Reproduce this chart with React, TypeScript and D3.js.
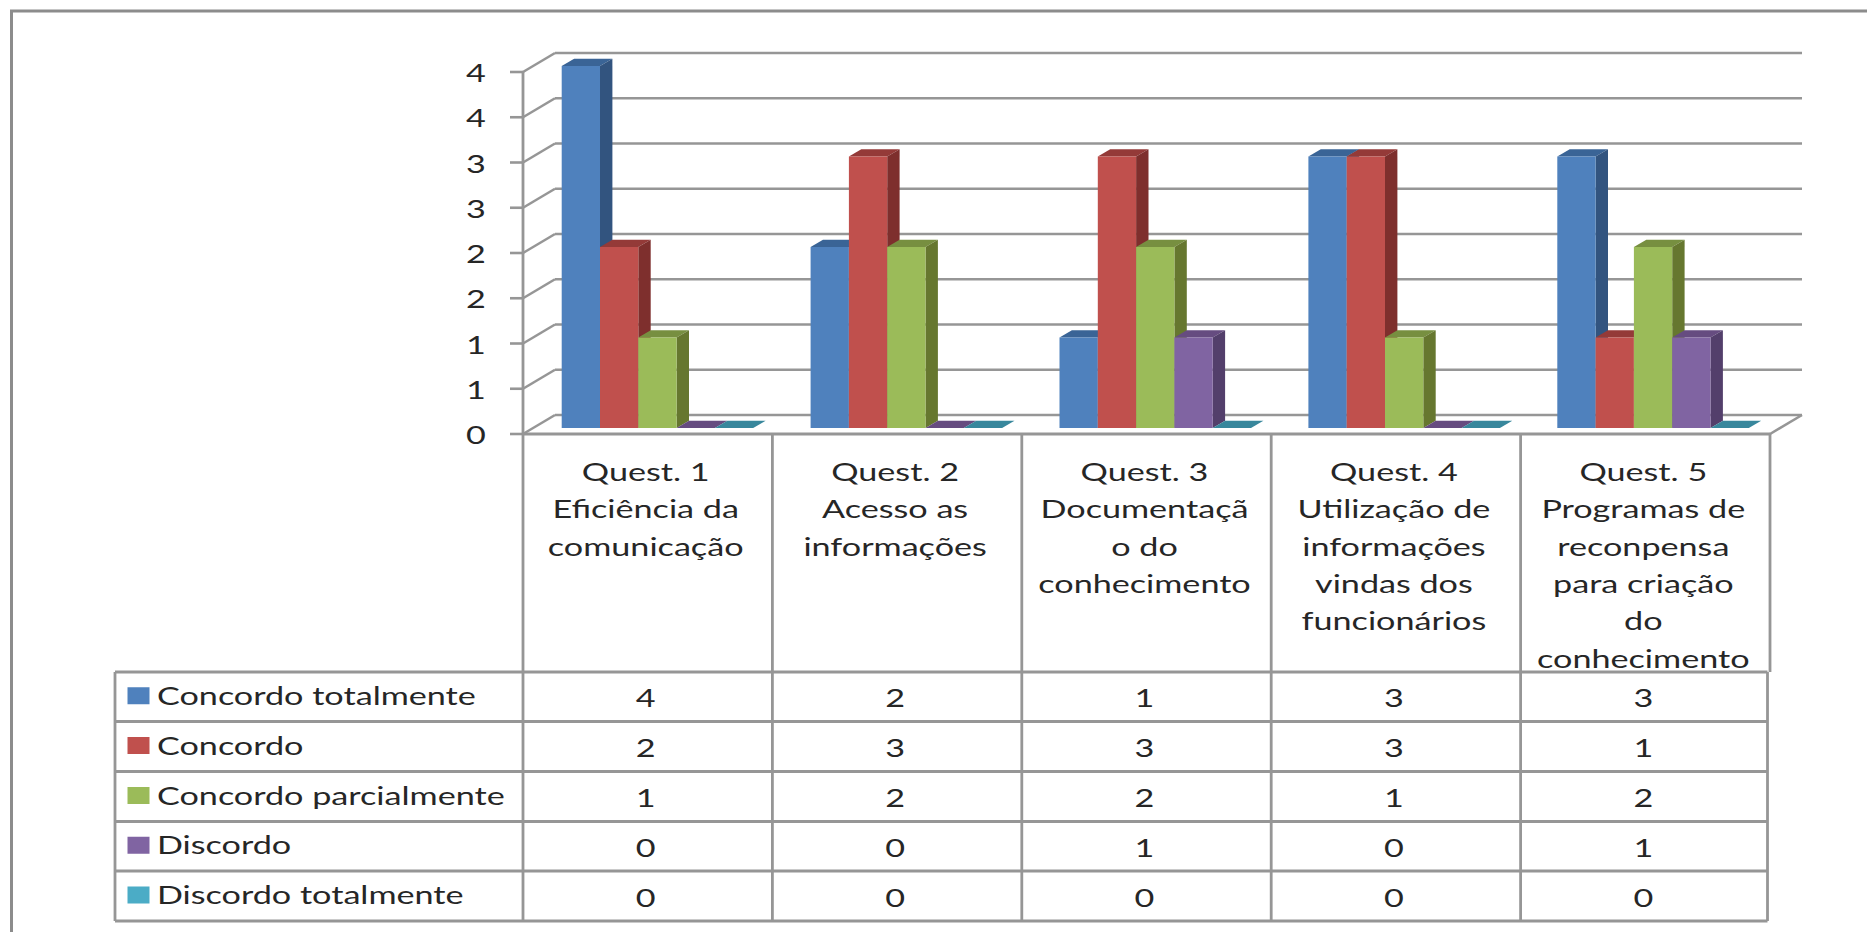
import React from "react";
import * as d3 from "d3";

const categories = [
  ["Quest. 1", "Eficiência da", "comunicação"],
  ["Quest. 2", "Acesso as", "informações"],
  ["Quest. 3", "Documentaçã", "o do", "conhecimento"],
  ["Quest. 4", "Utilização de", "informações", "vindas dos", "funcionários"],
  ["Quest. 5", "Programas de", "reconpensa", "para criação", "do", "conhecimento"],
];
const seriesNames = [
  "Concordo totalmente",
  "Concordo",
  "Concordo parcialmente",
  "Discordo",
  "Discordo totalmente",
];
const concordoTotalmente = [4, 2, 1, 3, 3];
const concordo = [2, 3, 3, 3, 1];
const concordoParcialmente = [1, 2, 2, 1, 2];
const discordo = [0, 0, 1, 0, 1];
const discordoTotalmente = [0, 0, 0, 0, 0];
const seriesValues = [concordoTotalmente, concordo, concordoParcialmente, discordo, discordoTotalmente];
const axisTicks = [0, 0.5, 1, 1.5, 2, 2.5, 3, 3.5, 4];

const faceColors = ["#4F81BD", "#C0504D", "#9BBB59", "#8064A2", "#4BACC6"];
const sideColors = ["#32547F", "#7E2F2D", "#66772F", "#533F6B", "#2F7285"];
const topColors = ["#3A6496", "#943A38", "#778F40", "#664C80", "#38879C"];

const GRID = "#969696";
const INK = "#262626";
const FONT = "Lato, 'Noto Sans', sans-serif";
const STRETCH = 1.34;
const FONT_SIZE = 25.5;

// Plot frame and the oblique depth of the 3D wall
const plotLeft = 523;
const plotRight = 1770;
const wallDx = 32;
const wallDy = -19;
const barDx = 12.4;
const barDy = -7.2;
const barBaseLift = 6;

const y = d3.scaleLinear().domain([0, 4]).range([434, 72]);
const column = d3.scaleBand<number>().domain(d3.range(5)).range([plotLeft, plotRight]);
const barGroup = d3.scaleLinear().domain([0, 5]).range([561.7, 1806.2]);
const barSlot = d3.scaleBand<number>().domain(d3.range(5)).range([0, 191.5]);
const rowEdges = [672, 721.5, 771.5, 821.5, 871, 921];
const categoryLines = [471, 508, 546, 583, 620, 658];

function StretchedText({ x, y: ty, anchor = "middle", children }: any) {
  return (
    <text
      transform={`translate(${x},${ty}) scale(${STRETCH},1)`}
      textAnchor={anchor}
      dominantBaseline="central"
      fontFamily={FONT}
      fontSize={FONT_SIZE}
      fill={INK}
    >
      {children}
    </text>
  );
}

function Bar({ series, cat, value }: { series: number; cat: number; value: number }) {
  const w = barSlot.bandwidth();
  const x0 = barGroup(cat) + (barSlot(series) as number);
  const x1 = x0 + w;
  const yb = y(0) - barBaseLift;
  const yt = y(value) - barBaseLift;
  const poly = (pts: number[][]) => pts.map((p) => p.join(",")).join(" ");
  return (
    <g>
      <polygon
        fill={topColors[series]}
        points={poly([[x0, yt], [x0 + barDx, yt + barDy], [x1 + barDx, yt + barDy], [x1, yt]])}
      />
      {value > 0 && (
        <>
          <polygon
            fill={sideColors[series]}
            points={poly([[x1, yt], [x1 + barDx, yt + barDy], [x1 + barDx, yb + barDy], [x1, yb]])}
          />
          <rect x={x0} y={yt} width={w} height={yb - yt} fill={faceColors[series]} />
        </>
      )}
    </g>
  );
}

export default function App() {
  const tableLeft = 115;
  const tableRight = 1767.5;
  const columnEdges = d3.range(6).map((i) => plotLeft + i * column.step());
  return (
    <svg
      width={1867}
      height={932}
      viewBox="0 0 1867 932"
      style={{ position: "absolute", left: 0, top: 0, display: "block", background: "#fff" }}
    >
      {/* outer chart border */}
      <path d="M11.5,932 V11 H1867" fill="none" stroke="#8c8c8c" strokeWidth={3} />

      {/* back wall gridlines, their diagonals and the tick marks */}
      <g stroke={GRID} strokeWidth={2.6} fill="none">
        {axisTicks.map((t) => (
          <g key={t}>
            <line x1={plotLeft + wallDx} x2={plotRight + wallDx} y1={y(t) + wallDy} y2={y(t) + wallDy} />
            <line x1={plotLeft} x2={plotLeft + wallDx} y1={y(t)} y2={y(t) + wallDy} />
            <line x1={plotLeft - 13} x2={plotLeft} y1={y(t)} y2={y(t)} />
          </g>
        ))}
        <line x1={plotRight} x2={plotRight + wallDx} y1={y(0)} y2={y(0) + wallDy} />
      </g>

      {/* bars, painted left to right so each face covers its neighbour's side */}
      {categories.map((_, c) =>
        seriesValues.map((vals, s) => <Bar key={`${c}-${s}`} series={s} cat={c} value={vals[c]} />)
      )}

      {/* axis, floor edge and data table rules */}
      <g stroke={GRID} strokeWidth={2.8} fill="none">
        <line x1={plotLeft} x2={plotLeft} y1={y(4)} y2={rowEdges[5]} />
        <line x1={plotLeft} x2={plotRight} y1={y(0)} y2={y(0)} />
        {columnEdges.slice(1, 5).map((x) => (
          <line key={x} x1={x} x2={x} y1={y(0)} y2={rowEdges[5]} />
        ))}
        <line x1={plotRight} x2={plotRight} y1={y(0)} y2={rowEdges[0]} />
        <line x1={tableRight} x2={tableRight} y1={rowEdges[0]} y2={rowEdges[5]} />
        {rowEdges.map((r) => (
          <line key={r} x1={tableLeft} x2={tableRight} y1={r} y2={r} />
        ))}
        <line x1={tableLeft} x2={tableLeft} y1={rowEdges[0]} y2={rowEdges[5]} />
      </g>

      {/* value axis labels, rounded to whole numbers */}
      {axisTicks.map((t) => (
        <StretchedText key={t} x={476} y={y(t)}>
          {Math.round(t)}
        </StretchedText>
      ))}

      {/* category headers */}
      {categories.map((lines, c) =>
        lines.map((line, i) => (
          <StretchedText key={line + i} x={(column(c) as number) + column.bandwidth() / 2 - 2} y={categoryLines[i]}>
            {line}
          </StretchedText>
        ))
      )}

      {/* legend keys and data rows */}
      {seriesNames.map((name, s) => {
        const mid = (rowEdges[s] + rowEdges[s + 1]) / 2;
        return (
          <g key={name}>
            <rect x={127.5} y={mid - 9.5} width={22} height={17} fill={faceColors[s]} />
            <StretchedText x={157} y={mid - 2} anchor="start">
              {name}
            </StretchedText>
            {seriesValues[s].map((v, c) => (
              <StretchedText key={c} x={(column(c) as number) + column.bandwidth() / 2 - 2} y={mid + 0.5}>
                {v}
              </StretchedText>
            ))}
          </g>
        );
      })}
    </svg>
  );
}
